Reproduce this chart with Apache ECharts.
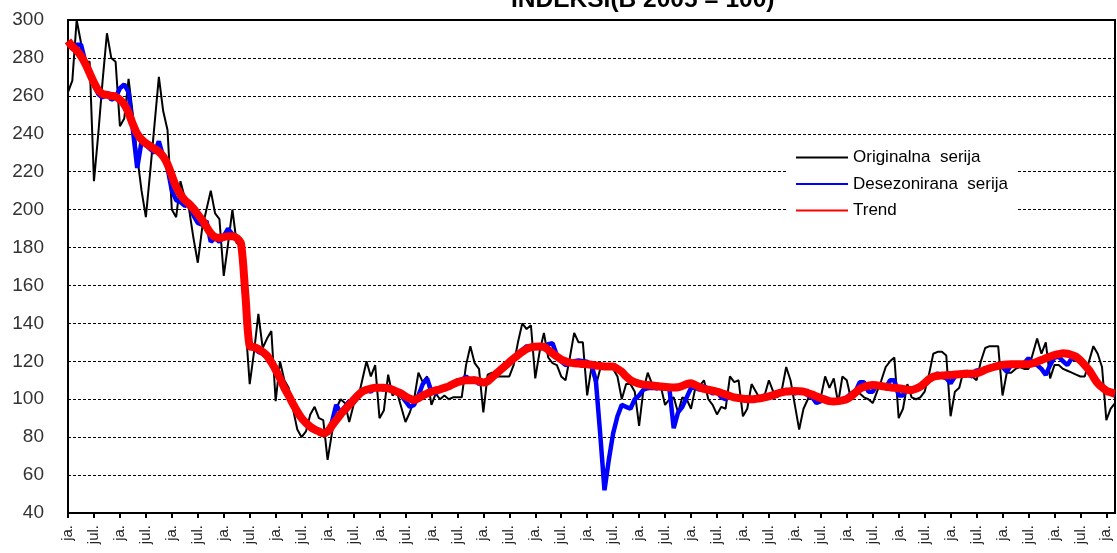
<!DOCTYPE html>
<html>
<head>
<meta charset="utf-8">
<script src="https://cdn.jsdelivr.net/npm/echarts@6/dist/echarts.min.js"></script>
<style>
html,body{margin:0;padding:0;background:#fff;}
#chart{width:1117px;height:553px;}
</style>
</head>
<body>
<div id="chart"></div>
<script>
const titleText = 'INDEKSI(B 2005 = 100)';
const seriesNames = ['Originalna  serija', 'Desezonirana  serija', 'Trend'];
const monthLabels = ['ja.','feb.','mar.','apr.','maj','jun.','jul.','avg.','sep.','okt.','nov.','dec.'];

const original = [
262,268,300,288,278,278,215,240,268,293,280,278,244,248,269,250,228,210,196,220,
245,270,252,242,200,196,215,206,200,185,172,190,200,210,198,195,165,182,200,182,
184,140,108,125,145,127,132,136,99,120,110,106,95,84,80,83,92,96,90,89,
68,82,95,100,98,88,97,100,110,120,112,118,90,94,113,102,104,96,88,93,
100,114,109,112,97,103,100,102,100,101,101,101,118,128,119,116,93,113,114,112,
112,112,112,118,130,140,137,139,111,125,135,122,119,118,112,110,122,135,130,130,
102,117,107,116,118,117,116,112,100,108,108,104,86,105,114,108,105,107,97,100,
101,93,101,100,95,106,107,110,100,97,92,96,95,112,109,110,91,95,108,104,
100,102,110,104,101,105,117,110,97,84,95,100,104,98,101,112,106,111,98,112,
110,100,104,103,101,100,98,104,110,117,120,122,90,95,108,101,100,101,104,113,
124,125,125,123,91,104,106,115,115,112,110,120,127,128,128,128,102,114,114,116,
117,116,116,124,132,124,130,111,118,118,116,115,114,113,112,112,120,128,124,117,
89,95,98
];

const deseasonal = [
288,285,287,287,278,274,266,261,259,262,258,259,264,266,262,242,222,236,234,232,
230,236,228,222,210,205,204,202,203,197,193,192,194,183,185,183,186,190,187,184,
181,155,127,127,125,124,122,120,114,110,106,101,97,92,89,87,85,84,83,82,
82,88,97,93,96,99,98,103,104,105,104,106,106,105,107,105,104,102,99,96,
97,102,108,111,104,103,105,106,107,108,110,110,112,110,111,108,109,110,112,113,
116,118,120,121,124,126,128,127,128,127,127,129,129.5,123,120,118,119,120,120.5,120,
119.8,118,110,82,52,68,82,91,97,96,95,100,102,105,105.8,106,105.8,106,105.5,105.8,
84.7,93,96,101,106,106,105,107,105,103,104,101,100,102,100,101,100,99,100,101,
100,102,102,101,103,104,105,104,103,104,105,102,101,98,99,101,99,98,100,99,
101,103,104,109,109,104,104,108,107,106,110,110,102,102,106,104,105,107,108,110,
112,113.7,112,111,108.4,112,113,114,113,112,115.4,114,116,117,117,118,117,114.5,118,119,
118,119,121.6,119,118,116,112.8,118,122,122.4,120,118,121.6,121,120,117,114,112,108,106,
104,103,102
];

const trend = [
289,286,284,281,277,272,267,263,261,260.5,260,259.6,258,255.5,251,245,240,237,235,233.5,
232,230.5,228,224,218,212,208,205,203,200.5,197.5,194.5,191,187.5,185.5,185,185.5,186,186,185,
182,155,128,127.5,126.5,125,123,119.5,115.5,111,106,102,97.5,93.5,90,87.5,85.5,84,83,82,
83,86,89,92,94.5,97,99.6,102,104,105,105.6,106,106,106,105.7,105,104,103,101.5,100.3,
99.6,100.5,102,103,104,104.7,105.2,106,106.8,108,109,109.6,110,110,110,109.5,108.8,109.5,111.5,113.5,
115.5,117.5,119.5,121.5,123.3,125,126.5,127.4,127.7,127.8,127.6,126,124.2,122.5,121,120,119.3,119,118.8,118.6,
118.5,118.2,117.8,117.5,117.3,117.2,117.2,116,114.5,112,110.1,109,108.2,107.7,107.5,107.2,107,106.7,106.5,106.3,
106.2,106.3,107,108,108.4,107.5,106.3,105.5,105,104.5,104,103.3,102.5,101.7,101,100.6,100.3,100.1,100,100.2,
100.5,101,101.5,102.2,103,103.6,104,104.2,104.3,104.2,104,103.3,102.5,101.5,100.5,99.7,99,98.8,99,99.4,
100,101.5,103.5,105.5,106.5,107.2,107.5,107.3,107,106.6,106.3,106,105.8,105.4,105,104.9,105.5,106.6,108.5,110.5,
111.9,112.3,112.5,112.7,112.8,113,113.2,113.3,113.4,113.5,113.7,114.5,115.5,116.3,117,117.6,118.1,118.3,118.4,118.4,
118.4,118.4,118.4,119,119.8,120.7,121.6,122.5,123.3,123.8,124.2,124,123.3,122.4,120.5,118,115.4,111.8,108.4,106.3,
104.5,103.6,103
];

const categories = original.map((_, i) => monthLabels[i % 12]);

const chart = echarts.init(document.getElementById('chart'), null, {renderer: 'canvas'});
const FONT = 'Liberation Sans';
chart.setOption({
  animation: false,
  backgroundColor: '#fff',
  title: {
    text: titleText,
    left: 511,
    top: -12,
    padding: 0,
    textStyle: {fontFamily: FONT, fontWeight: 'bold', fontSize: 24.5, color: '#000'}
  },
  legend: {
    orient: 'vertical',
    left: 788,
    top: 143,
    padding: [6, 8, 6, 8],
    backgroundColor: '#fff',
    itemWidth: 52,
    itemHeight: 2,
    itemGap: 9.5,
    icon: 'rect',
    data: seriesNames,
    textStyle: {fontFamily: FONT, fontSize: 17, color: '#000'}
  },
  grid: {
    left: 68, right: 2, top: 20, bottom: 40,
    containLabel: false,
    outerBoundsMode: 'none',
    show: true,
    borderColor: '#000',
    borderWidth: 2,
    backgroundColor: 'transparent'
  },
  xAxis: {
    type: 'category',
    data: categories,
    boundaryGap: false,
    axisLine: {show: true, lineStyle: {color: '#000', width: 2}},
    axisTick: {show: true, interval: 5, length: 5, lineStyle: {color: '#000', width: 2}},
    axisLabel: {interval: 5, rotate: 90, margin: 12, fontFamily: FONT, fontSize: 15, color: '#222'},
    splitLine: {show: false}
  },
  yAxis: {
    type: 'value',
    min: 40, max: 300, interval: 20,
    axisLine: {show: true, lineStyle: {color: '#000', width: 2}},
    axisTick: {show: false},
    axisLabel: {margin: 24, fontFamily: FONT, fontSize: 19, color: '#333'},
    splitLine: {show: true, lineStyle: {color: '#000', width: 1, type: [3, 2]}}
  },
  series: [
    {name: seriesNames[0], type: 'line', data: original, symbol: 'none', color: '#000',
     lineStyle: {color: '#000', width: 2}, z: 2},
    {name: seriesNames[1], type: 'line', data: deseasonal, symbol: 'none', color: '#0000ff',
     lineStyle: {color: '#0000ff', width: 4.5}, z: 3},
    {name: seriesNames[2], type: 'line', data: trend, symbol: 'none', color: '#ff0000', smooth: 0.3,
     lineStyle: {color: '#ff0000', width: 8}, z: 4}
  ]
});
</script>
</body>
</html>
